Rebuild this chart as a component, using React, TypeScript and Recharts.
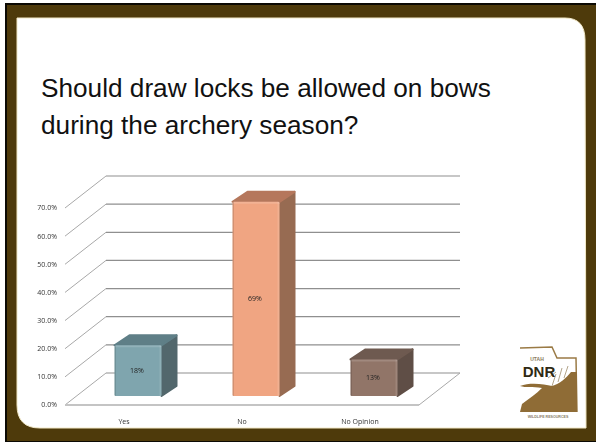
import { BarChart, Bar, XAxis, YAxis, CartesianGrid, Cell, LabelList } from 'recharts';

const title = ['Should draw locks be allowed on bows', 'during the archery season?'];
const categories = ['Yes', 'No', 'No Opinion'];
const shares = [18, 69, 13];
const valueTicks = [0, 10, 20, 30, 40, 50, 60, 70];

// front, top and side of each block
const FRONT = ['#7fa5ae', '#f0a582', '#917568'];
const TOP = ['#5f7f87', '#b5775c', '#6e5a50'];
const SIDE = ['#52676c', '#976b52', '#5f4e46'];

const data = categories.map((name, i) => ({ name, share: shares[i] }));

const BROWN = '#4e3a0b';
const GRID = '#8f8f8f';
const FONT = '"Liberation Sans", Arial, sans-serif';
const TICK_FONT = '"Open Sans", "DejaVu Sans", sans-serif';

// 3D wall offsets
const WALL_DX = 41;
const WALL_DY = -32;
// bars stand in the middle of the floor
const BAR_DX = 13.5;
const BAR_DY = -9;
const DEPTH_X = 15;
const DEPTH_Y = -10;

// diagonal on the side wall, then the horizontal line on the back wall
function WallLine(props: any) {
  const { x1, x2, y1 } = props;
  const isFloor = y1 > 400;
  return (
    <g>
      <path
        d={`M ${x1} ${y1} L ${x1 + WALL_DX} ${y1 + WALL_DY}`}
        stroke="#a8a8a8"
        strokeWidth={1}
        fill="none"
      />
      <path
        d={`M ${x1 + WALL_DX} ${y1 + WALL_DY} L ${x2 + WALL_DX} ${y1 + WALL_DY}`}
        stroke={GRID}
        strokeWidth={1.2}
        fill="none"
      />
      {isFloor && (
        <path
          d={`M ${x2} ${y1} L ${x2 + WALL_DX} ${y1 + WALL_DY}`}
          stroke="#a8a8a8"
          strokeWidth={1}
          fill="none"
        />
      )}
    </g>
  );
}

function Block(props: any) {
  const { x, y, width, height, index } = props;
  const left = x + BAR_DX;
  const top = y + BAR_DY;
  const right = left + width;
  const bottom = top + height;
  return (
    <g>
      <path
        d={`M ${right} ${top} L ${right + DEPTH_X} ${top + DEPTH_Y} L ${right + DEPTH_X} ${bottom + DEPTH_Y} L ${right} ${bottom} Z`}
        fill={SIDE[index]}
        stroke={SIDE[index]}
        strokeLinejoin="round"
        strokeWidth={2}
      />
      <path
        d={`M ${left} ${top} L ${left + DEPTH_X} ${top + DEPTH_Y} L ${right + DEPTH_X} ${top + DEPTH_Y} L ${right} ${top} Z`}
        fill={TOP[index]}
        stroke={TOP[index]}
        strokeLinejoin="round"
        strokeWidth={2}
      />
      <rect x={left} y={top} width={width} height={height} rx={1.5} fill={FRONT[index]} />
      <rect x={left} y={top} width={width} height={2} rx={1} fill="#ffffff" opacity={0.15} />
      <rect x={left} y={top} width={1.5} height={height} fill="#000000" opacity={0.12} />
      <rect x={right - 2} y={top} width={2} height={height} fill="#ffffff" opacity={0.12} />
    </g>
  );
}

function BlockLabel(props: any) {
  const { x, y, width, height, value } = props;
  return (
    <text
      x={x + width / 2 + BAR_DX - 1}
      y={y + height / 2 + BAR_DY}
      textAnchor="middle"
      dominantBaseline="central"
      fontSize={7}
      fontFamily={TICK_FONT}
      fill="#222222"
    >
      {value}%
    </text>
  );
}

function Frame() {
  return (
    <svg width={596} height={444} style={{ position: 'absolute', left: 0, top: 0 }}>
      <rect width={596} height={444} fill="#ffffff" />
      <rect x={5} y={3} width={591} height={439} fill="#0c0a04" />
      <rect x={7} y={5} width={589} height={436} fill={BROWN} />
      <path
        d="M 17 18 L 565 18 Q 585 18 585 40 L 586 428 L 40 428 Q 17 428 17 405 Z"
        fill="#ffffff"
        stroke="#f2e9c8"
        strokeWidth={1}
      />
      {/* DNR logo */}
      <path
        d="M 520 348 L 552 347 L 557 358 L 576 358 L 577 412"
        fill="none"
        stroke="#9a7a45"
        strokeWidth={1.5}
      />
      <path
        d="M 520 412 L 522 404 C 530 398 536 394 542 388 C 532 386 526 388 520 386 C 530 382 544 384 552 386 C 560 384 566 378 571 372 L 577 372 L 577 412 Z"
        fill="#8f6c36"
      />
      <path
        d="M 552 386 L 556 374 M 558 382 L 562 368 M 564 378 L 568 366 M 548 378 L 556 372"
        stroke="#b3a48a"
        strokeWidth={1}
        fill="none"
      />
      <text x={537} y={361} textAnchor="middle" fontSize={5} fontWeight="bold" fontFamily={FONT} fill="#8a7a5c">
        UTAH
      </text>
      <text x={539} y={377} textAnchor="middle" fontSize={15} fontWeight="bold" fontFamily={FONT} fill="#2f2a14">
        DNR
      </text>
      <text x={548} y={418} textAnchor="middle" fontSize={3.6} fontWeight="bold" fontFamily={FONT} fill="#8a8068">
        WILDLIFE RESOURCES
      </text>
    </svg>
  );
}

export default function App() {
  return (
    <div style={{ position: 'absolute', left: 0, top: 0, width: 596, height: 444, overflow: 'hidden' }}>
      <Frame />
      <div
        style={{
          position: 'absolute',
          left: 41,
          top: 70,
          fontFamily: FONT,
          fontSize: 26.2,
          lineHeight: '37px',
          color: '#111111',
          whiteSpace: 'nowrap',
        }}
      >
        {title.map((line) => (
          <div key={line}>{line}</div>
        ))}
      </div>
      <div style={{ position: 'absolute', left: 0, top: 0, willChange: 'transform' }}>
        <BarChart
          width={596}
          height={444}
          data={data}
          margin={{ top: 208, right: 177, bottom: 9, left: 0 }}
          barSize={47}
          style={{ background: 'transparent' }}
        >
          <CartesianGrid horizontal={(p: any) => <WallLine key={p.key ?? p.y1} {...p} />} vertical={false} />
          <XAxis
            dataKey="name"
            height={30}
            axisLine={{ stroke: '#c4c4c4', strokeWidth: 2 }}
            tickLine={false}
            tick={{ fontSize: 7, fontFamily: TICK_FONT, fill: '#333333' }}
            tickMargin={8}
          />
          <YAxis
            width={65}
            domain={[0, 70]}
            ticks={valueTicks}
            axisLine={false}
            tickLine={false}
            interval={0}
            tickFormatter={(v: number) => `${v.toFixed(1)}%`}
            tick={{ fontSize: 7, fontFamily: TICK_FONT, fill: '#333333' }}
            tickMargin={2}
          />
          <Bar dataKey="share" isAnimationActive={false} shape={<Block />}>
            {data.map((d) => (
              <Cell key={d.name} />
            ))}
            <LabelList dataKey="share" content={<BlockLabel />} />
          </Bar>
        </BarChart>
      </div>
    </div>
  );
}
